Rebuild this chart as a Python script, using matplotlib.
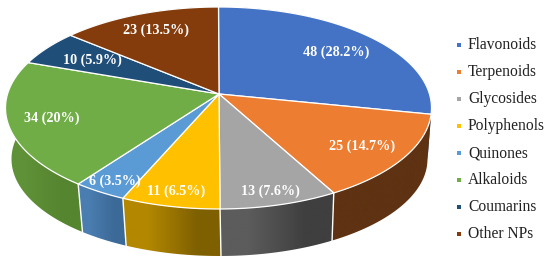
import numpy as np
import matplotlib
matplotlib.use('Agg')
import matplotlib.pyplot as plt
from matplotlib.colors import to_rgb
from matplotlib.patches import Polygon

categories = ['Flavonoids', 'Terpenoids', 'Glycosides', 'Polyphenols',
              'Quinones', 'Alkaloids', 'Coumarins', 'Other NPs']
counts = [48, 25, 13, 11, 6, 34, 10, 23]
percents = ['28.2%', '14.7%', '7.6%', '6.5%', '3.5%', '20%', '5.9%', '13.5%']
# slice sizes as measured on the drawn pie, they differ a bit from the labels
drawn_shares = [28.3, 13.9, 7.9, 6.6, 3.6, 20.4, 5.8, 13.9]
colors = ['#4472C4', '#ED7D31', '#A5A5A5', '#FFC000',
          '#5B9BD5', '#70AD47', '#1F4E79', '#843C0C']
wall_left = ['#2F5597', '#5E3212', '#5C5C5C', '#B38800',
             '#4A7DB0', '#5F9138', '#1F3864', '#5F3212']
wall_right = ['#2F5597', '#5E3212', '#3F3F3F', '#7F6000',
              '#3C6A98', '#55852F', '#1F3864', '#5F3212']
label_pos = [(336, 52), (362, 146), (270, 191), (176, 191),
             (115, 181), (52, 118), (92, 60), (156, 30)]

# top face and rim of the pie, in picture pixels
TOP = (218.5, 108, 213, 101)
BOTTOM = (219.5, 159, 208, 97)
APEX = (219, 94)
K = (TOP[1] - APEX[1]) / TOP[3]


def rim(theta, ell):
    # perspective view of a circle, theta runs clockwise from 12 o'clock
    u, v = np.sin(theta), np.cos(theta)
    den = 1 + K * v
    x = u * np.sqrt(1 - K ** 2) / den
    y = (v + K) / den
    return ell[0] + ell[2] * x, ell[1] - ell[3] * y


fig = plt.figure(figsize=(5.5, 2.67), dpi=100)
ax = fig.add_axes([0, 0, 1, 1])

edges = np.cumsum([0] + drawn_shares) / sum(drawn_shares) * 2 * np.pi

# side wall first, horizontal gradient clipped to each slice
for i in range(len(counts)):
    t = np.linspace(edges[i], edges[i + 1], 120)
    xt, yt = rim(t, TOP)
    xb, yb = rim(t, BOTTOM)
    pts = np.column_stack([np.r_[xt, xb[::-1]], np.r_[yt, yb[::-1]]])
    patch = Polygon(pts, closed=True, facecolor='none', edgecolor='none')
    ax.add_patch(patch)
    grad = np.array([[to_rgb(wall_left[i]), to_rgb(wall_right[i])]])
    im = ax.imshow(grad, extent=(pts[:, 0].min(), pts[:, 0].max(),
                                 pts[:, 1].max(), pts[:, 1].min()),
                   aspect='auto', interpolation='bilinear', zorder=2)
    im.set_clip_path(patch)
    if np.cos(edges[i]) < -0.3:
        xe, ye = rim(edges[i], TOP)
        xf, yf = rim(edges[i], BOTTOM)
        ax.plot([xe, xf], [ye, yf], color='white', lw=1, zorder=3)

# top face
for i in range(len(counts)):
    t = np.linspace(edges[i], edges[i + 1], 120)
    xt, yt = rim(t, TOP)
    ax.fill(np.r_[APEX[0], xt], np.r_[APEX[1], yt], facecolor=colors[i],
            edgecolor='white', lw=0.9, joinstyle='round', zorder=4)

for i in range(len(counts)):
    ax.text(label_pos[i][0], label_pos[i][1], f'{counts[i]} ({percents[i]})',
            color='white', fontsize=10.2, fontweight='bold',
            family='Liberation Serif', ha='center', va='center', zorder=5)

# legend
leg_y = 45 + 27 * np.arange(len(categories))
ax.scatter([459] * len(categories), leg_y, marker='s', s=9, c=colors,
           linewidths=0, zorder=5)
for name, y in zip(categories, leg_y):
    ax.text(468, y, name, color='#222222', fontsize=11.2, va='center',
            family='Liberation Serif')

ax.set_xlim(0, 550)
ax.set_ylim(267, 0)
ax.axis('off')
fig.savefig('out.png', dpi=100)
